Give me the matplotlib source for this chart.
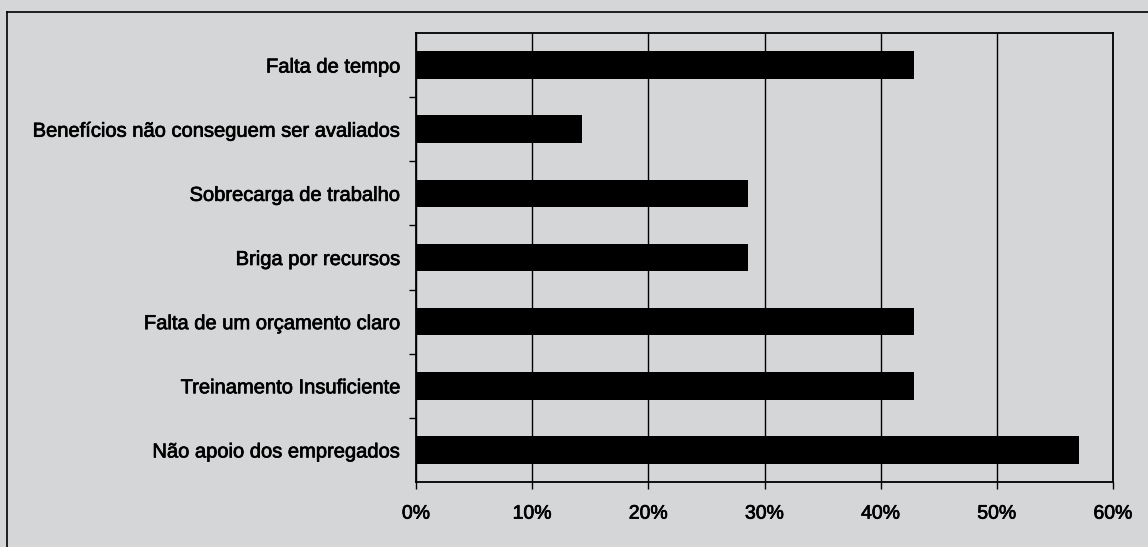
import matplotlib.pyplot as plt
import matplotlib.patheffects as pe
from matplotlib.lines import Line2D
from matplotlib.ticker import FuncFormatter, FixedLocator

plt.rcParams['font.family'] = ['Liberation Sans', 'DejaVu Sans']

# obstacles, top to bottom, share of respondents (%)
labels = [
    "Falta de tempo",
    "Benefícios não conseguem ser avaliados",
    "Sobrecarga de trabalho",
    "Briga por recursos",
    "Falta de um orçamento claro",
    "Treinamento Insuficiente",
    "Não apoio dos empregados",
]
values = [42.9, 14.3, 28.6, 28.6, 42.9, 42.9, 57.1]
xticks = [0, 10, 20, 30, 40, 50, 60]

bg = "#d4d6d8"
fig = plt.figure(figsize=(11.48, 5.47), dpi=100, facecolor=bg)
ax = fig.add_axes([0.3624, 0.1188, 0.6071, 0.8209], facecolor=bg)

pos = list(range(len(labels)))[::-1]
ax.barh(pos, values, height=0.43, color="black", zorder=3)

ax.set_xlim(0, 60)
ax.set_ylim(-0.5, len(labels) - 0.5)
ax.xaxis.set_major_locator(FixedLocator(xticks))
ax.xaxis.set_major_formatter(FuncFormatter(lambda v, _: f"{v:.0f}%"))
ax.grid(axis="x", color="black", linewidth=1.0, zorder=1)

ax.set_yticks(pos)
ax.set_yticklabels(labels)
ax.set_yticks([p + 0.5 for p in range(len(labels) - 1)], minor=True)
ax.tick_params(axis="y", which="major", length=0, pad=11, labelsize=14.5)
ax.tick_params(axis="y", which="minor", length=5, width=1, direction="out")
ax.tick_params(axis="x", length=5, width=1, direction="out", pad=12, labelsize=14)

# slightly heavier strokes on the text
heavy = [pe.withStroke(linewidth=0.5, foreground="black")]
for t in ax.get_xticklabels() + ax.get_yticklabels():
    t.set_path_effects(heavy)

for s in ax.spines.values():
    s.set_color("black")
    s.set_linewidth(1.3)

# outer chart frame (top and left edges visible)
fw, fh = 1148, 547
fig.add_artist(Line2D([7 / fw, 1], [1 - 12 / fh, 1 - 12 / fh], color="black", lw=1.2))
fig.add_artist(Line2D([7 / fw, 7 / fw], [0, 1 - 12 / fh], color="black", lw=1.2))

fig.savefig("out.png", dpi=100, facecolor=bg)
